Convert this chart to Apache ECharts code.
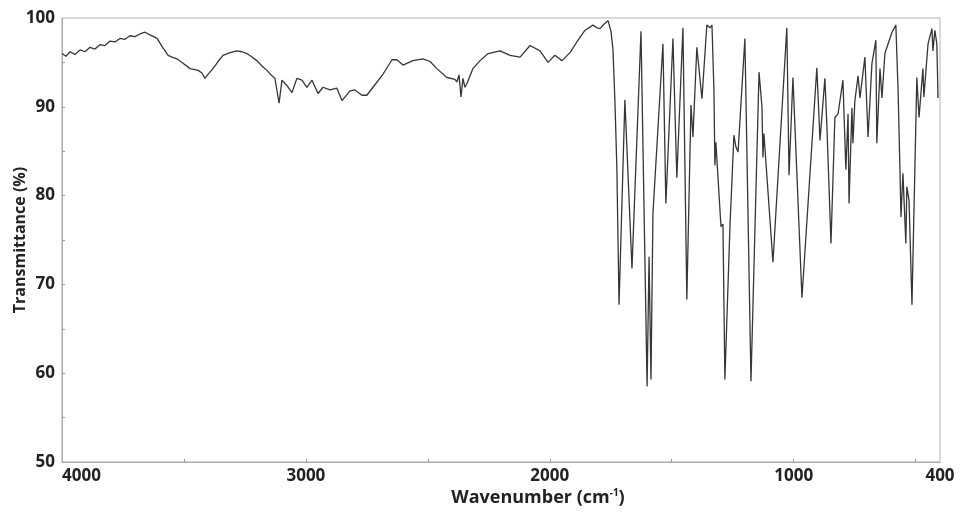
<!DOCTYPE html>
<html>
<head>
<meta charset="utf-8">
<title>IR spectrum</title>
<script src="https://cdn.jsdelivr.net/npm/echarts@6/dist/echarts.min.js"></script>
<style>
  html, body { margin: 0; padding: 0; background: #fff; }
  #chart { width: 962px; height: 512px; }
</style>
</head>
<body>
<div id="chart"></div>
<script>
// Spectrum: wavenumber (cm-1) and transmittance (%)
const wavenumber = [
  4000, 3984, 3967, 3947, 3926, 3906, 3885, 3865, 3844, 3824, 3803, 3783, 3762, 3742, 3721, 3701,
  3680, 3660, 3639, 3610, 3590, 3565, 3549, 3529, 3504, 3475, 3442, 3426, 3414, 3397, 3381, 3360,
  3340, 3311, 3283, 3262, 3242, 3221, 3201, 3180, 3160, 3143, 3127, 3119, 3110, 3098, 3078, 3057,
  3037, 3016, 2996, 2975, 2950, 2930, 2901, 2873, 2852, 2819, 2799, 2770, 2750, 2725, 2688, 2647,
  2627, 2602, 2561, 2520, 2491, 2463, 2422, 2389, 2381, 2372, 2364, 2356, 2348, 2340, 2315, 2286,
  2253, 2204, 2163, 2122, 2081, 2040, 2007, 1979, 1950, 1917, 1889, 1856, 1823, 1807, 1794, 1778,
  1761, 1749, 1741, 1733, 1725, 1716, 1692, 1663, 1626, 1601, 1593, 1585, 1577, 1536, 1524, 1495,
  1479, 1454, 1438, 1421, 1413, 1397, 1376, 1356, 1343, 1335, 1327, 1323, 1319, 1298, 1290, 1282,
  1261, 1245, 1237, 1228, 1200, 1175, 1142, 1130, 1126, 1122, 1085, 1028, 1019, 1003, 966, 905,
  892, 872, 864, 855, 847, 831, 818, 798, 786, 777, 773, 761, 757, 749, 736, 728,
  708, 695, 679, 663, 659, 646, 638, 626, 597, 581, 572, 564, 560, 552, 540, 536,
  527, 515, 495, 486, 470, 466, 449, 433, 429, 421, 413, 408
];
const transmittance = [
  96.0, 95.7, 96.2, 95.9, 96.4, 96.2, 96.7, 96.5, 97.0, 96.9, 97.4, 97.3, 97.7, 97.6, 98.0, 97.9,
  98.2, 98.4, 98.1, 97.7, 96.8, 95.8, 95.6, 95.4, 94.9, 94.3, 94.1, 93.8, 93.2, 93.8, 94.3, 95.1,
  95.8, 96.1, 96.3, 96.2, 96.0, 95.6, 95.2, 94.6, 94.1, 93.6, 93.2, 93.0, 90.4, 93.0, 92.4, 91.6,
  93.2, 93.0, 92.2, 93.0, 91.5, 92.2, 91.9, 92.1, 90.7, 91.8, 91.9, 91.3, 91.3, 92.2, 93.5, 95.3,
  95.3, 94.7, 95.2, 95.4, 95.1, 94.3, 93.3, 93.1, 92.8, 93.6, 91.1, 93.2, 92.2, 92.6, 94.3, 95.2,
  96.0, 96.3, 95.8, 95.6, 96.9, 96.3, 95.0, 95.8, 95.2, 96.1, 97.3, 98.6, 99.2, 98.9, 98.8, 99.3,
  99.7, 98.5, 96.5, 90.7, 83.2, 67.7, 90.8, 71.8, 98.5, 58.5, 73.1, 59.3, 78.0, 97.1, 79.1, 97.7,
  82.0, 98.9, 68.3, 90.2, 86.6, 96.7, 90.9, 99.2, 98.9, 99.2, 92.0, 83.4, 86.0, 76.5, 76.8, 59.3,
  76.7, 86.8, 85.5, 84.9, 97.7, 59.1, 93.9, 90.0, 84.3, 87.0, 72.5, 98.9, 82.3, 93.3, 68.5, 94.4,
  86.2, 93.2, 88.0, 81.0, 74.6, 88.8, 89.2, 93.0, 82.9, 89.2, 79.1, 89.9, 85.9, 90.7, 93.5, 91.0,
  95.6, 86.6, 94.9, 97.5, 85.9, 94.3, 91.0, 96.0, 98.4, 99.2, 92.0, 82.7, 77.6, 82.5, 74.6, 81.0,
  79.5, 67.7, 93.3, 88.8, 94.3, 91.1, 97.1, 98.8, 96.3, 98.6, 97.1, 91.0
];

const xLabelValues = [400, 1000, 2000, 3000, 4000];
const xTickValues = [500, 1000, 1500, 2000, 2500, 3000, 3500];
const yTickValues = [55, 60, 65, 70, 75, 80, 85, 90, 95];

const font = "'Open Sans', 'DejaVu Sans', sans-serif";
const textColor = '#222';

const chart = echarts.init(document.getElementById('chart'), null, { renderer: 'canvas' });

const option = {
  animation: false,
  backgroundColor: '#fff',
  grid: {
    left: 62, right: 22, top: 18, bottom: 50,
    containLabel: false,
    outerBoundsMode: 'none',
    show: true, borderColor: '#b4b4b4', borderWidth: 1
  },
  xAxis: {
    type: 'value',
    min: 400,
    max: 4000,
    inverse: true,
    axisLine: { show: true, lineStyle: { color: '#a8a8a8', width: 1 } },
    axisTick: { show: true, inside: true, length: 3, customValues: xTickValues, lineStyle: { color: '#999' } },
    axisLabel: {
      customValues: xLabelValues,
      formatter: v => String(v),
      color: textColor, fontSize: 17, fontWeight: 'bold', fontFamily: font,
      margin: 6, alignMinLabel: 'center', alignMaxLabel: 'left'
    },
    splitLine: { show: false },
    name: '{a|Wavenumber (cm}{s|-1}{a|)}',
    nameLocation: 'middle',
    nameGap: 26,
    nameMoveOverlap: false,
    nameTextStyle: {
      padding: [0, 0, 0, 74],
      rich: {
        a: { fontSize: 18, fontWeight: 'bold', color: textColor, fontFamily: font },
        s: { fontSize: 10, fontWeight: 'bold', color: textColor, fontFamily: font, padding: [0, 0, 9, 0] }
      }
    }
  },
  yAxis: {
    type: 'value',
    min: 50,
    max: 100,
    interval: 10,
    axisLine: { show: true, lineStyle: { color: '#a8a8a8', width: 1 } },
    axisTick: { show: true, inside: true, length: 3, customValues: yTickValues, lineStyle: { color: '#999' } },
    axisLabel: {
      formatter: v => String(v),
      color: textColor, fontSize: 17, fontWeight: 'bold', fontFamily: font, margin: 7
    },
    splitLine: { show: false },
    name: 'Transmittance (%)',
    nameLocation: 'middle',
    nameRotate: 90,
    nameGap: 34,
    nameMoveOverlap: false,
    nameTextStyle: {
      color: textColor, fontSize: 16, fontWeight: 'bold', fontFamily: font,
      padding: [0, 0, 0, 0]
    }
  },
  series: [{
    type: 'line',
    data: wavenumber.map((w, i) => [w, transmittance[i]]),
    showSymbol: false,
    lineStyle: { color: '#363636', width: 1.3 },
    emphasis: { disabled: true }
  }]
};

chart.setOption(option);
</script>
</body>
</html>
